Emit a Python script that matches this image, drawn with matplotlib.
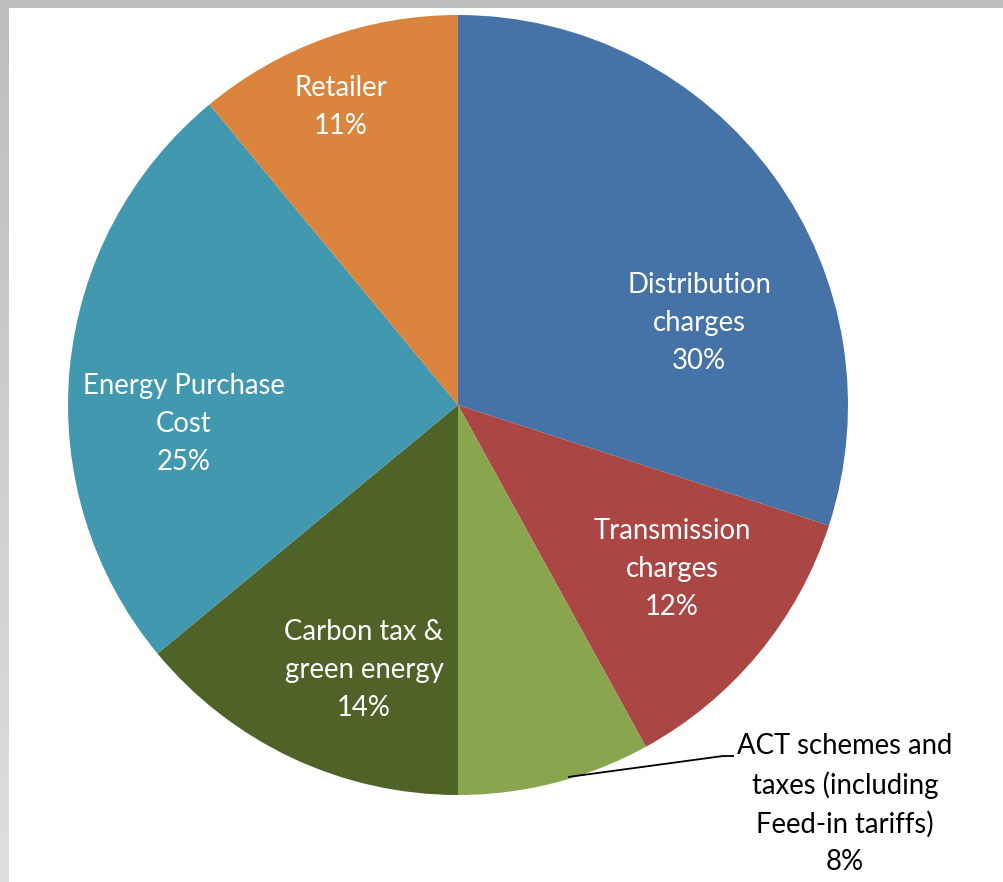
import numpy as np
import matplotlib
matplotlib.use("Agg")
import matplotlib.pyplot as plt

# Share of the electricity bill by cost component (percent)
categories = [
    "Distribution\ncharges",
    "Transmission\ncharges",
    "ACT schemes and\ntaxes (including\nFeed-in tariffs)",
    "Carbon tax &\ngreen energy",
    "Energy Purchase\nCost",
    "Retailer",
]
shares = [30, 12, 8, 14, 25, 11]
colors = ["#4572A7", "#AA4643", "#89A54E", "#4F6228", "#4198AF", "#DB843D"]

W, H = 1004, 882
DPI = 100
fig = plt.figure(figsize=(W / DPI, H / DPI), dpi=DPI)
fig.patch.set_facecolor("white")

# grey frame strips along the top and left edges
bg = fig.add_axes([0, 0, 1, 1])
bg.set_xlim(0, W)
bg.set_ylim(H, 0)
bg.axis("off")
grad = np.linspace(0.74, 0.87, 256).reshape(-1, 1)
bg.imshow(grad, cmap="gray", vmin=0, vmax=1, extent=[0, 9, H, 0], aspect="auto")
bg.add_patch(plt.Rectangle((0, 0), W, 8, color="#bdbdbd", lw=0))

# pie axes: centre (458, 405) px, radius 390 px
cx, cy, r = 458, 405, 390
ax = fig.add_axes([(cx - r) / W, (H - cy - r) / H, 2 * r / W, 2 * r / H])

ax.pie(shares, colors=colors, startangle=90, counterclock=False, radius=1,
       wedgeprops=dict(linewidth=0))
ax.set_xlim(-1, 1)
ax.set_ylim(-1, 1)
ax.set_aspect("equal")
ax.axis("off")

font = "Lato"
fs = 19.8
ls = 1.55

def px(x, y):
    return (x - cx) / r, (cy - y) / r

label_pos = {
    0: (699, 323),
    1: (672, 569),
    3: (364, 670),
    4: (184, 424),
    5: (341, 107),
}
for i, (x, y) in label_pos.items():
    ax.text(*px(x, y), f"{categories[i]}\n{shares[i]}%", ha="center", va="center",
            color="white", fontsize=fs, family=font, linespacing=ls)

# outside label with leader line for the small slice
ax.plot(*zip(px(568, 777), px(723, 756), px(734, 756)), color="black", lw=1.3,
        solid_capstyle="butt", clip_on=False)
ax.text(*px(845, 804), f"{categories[2]}\n{shares[2]}%", ha="center", va="center",
        color="black", fontsize=fs, family=font, linespacing=ls, clip_on=False)

fig.savefig("out.png", dpi=DPI, facecolor="white")
